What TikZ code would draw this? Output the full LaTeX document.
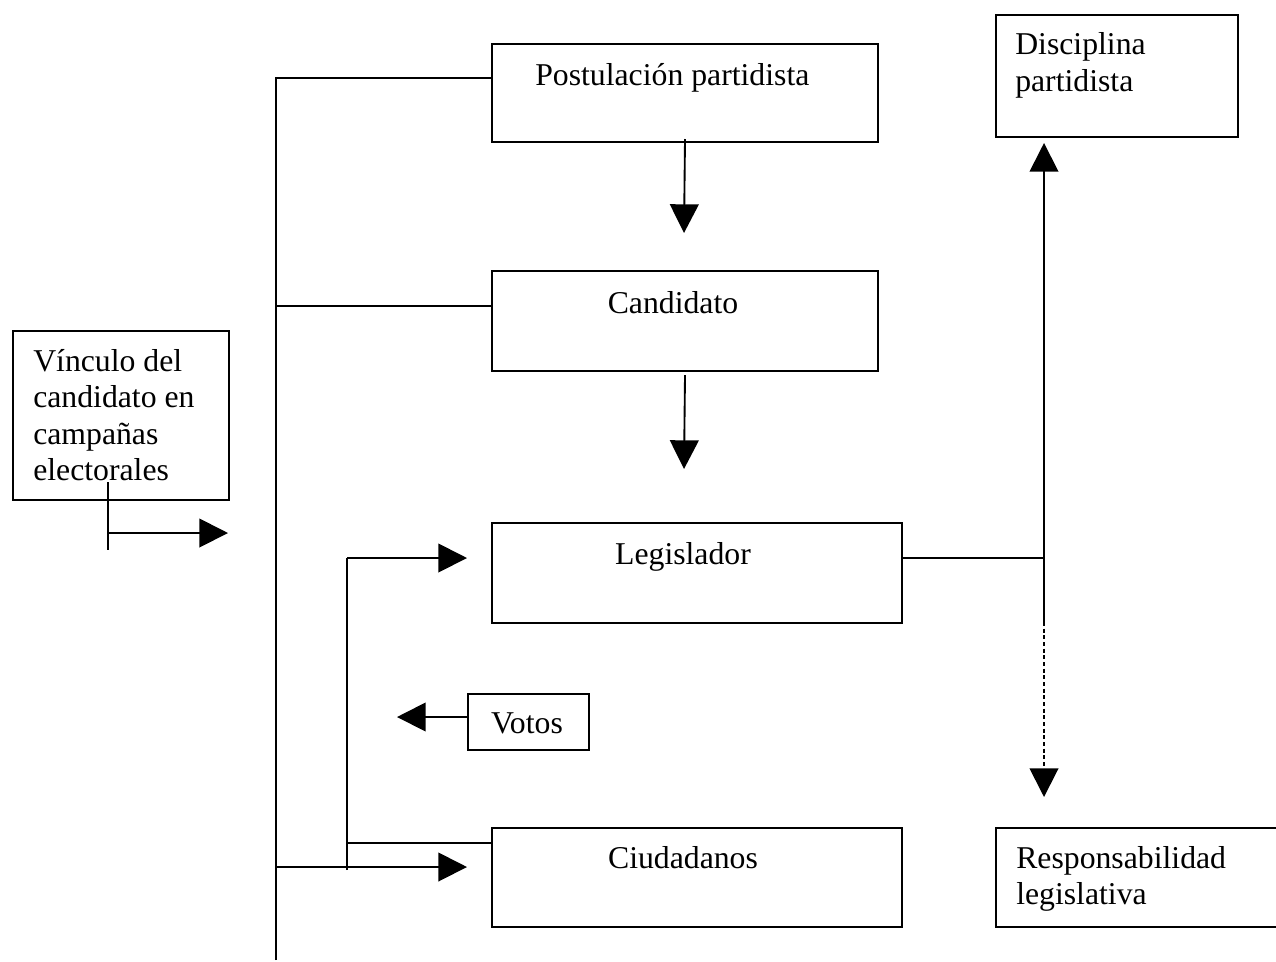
\documentclass[tikz,border=0pt]{standalone}
\usepackage{fontspec}
\setmainfont{Liberation Serif}
\usetikzlibrary{arrows.meta}
\begin{document}
\begin{tikzpicture}[x=0.75pt,y=-0.75pt,
  box/.style={draw,line width=1.5pt,anchor=north west,inner sep=0pt},
  txt/.style={inner sep=0pt,font=\fontsize{23.8}{27.4}\selectfont},
  conn/.style={line width=1.4pt},
  arr/.style={conn,-{Triangle[length=21.5pt,width=21.5pt]}},
  dotline/.style={dash pattern=on 3pt off 2pt}]
\useasboundingbox (0,0) rectangle (1276,961);
% boxes
\node[box,minimum width=289.5pt,minimum height=73.5pt] (post) at (491,43) {};
\node[box,minimum width=289.5pt,minimum height=75pt] (cand) at (491,270) {};
\node[box,minimum width=307.5pt,minimum height=75pt] (leg) at (491,522) {};
\node[box,minimum width=307.5pt,minimum height=74.25pt] (ciud) at (491,827) {};
\node[box,minimum width=181.5pt,minimum height=91.5pt] (disc) at (995,14) {};
\node[box,minimum width=215.25pt,minimum height=74.25pt] (resp) at (995,827) {};
\node[box,minimum width=162pt,minimum height=126.75pt] (vinc) at (12,330) {};
\node[box,minimum width=90.75pt,minimum height=42pt] (votos) at (467,693) {};
% texts
\node[txt,anchor=base west] (tpost) at (535,85) {Postulación partidista};
\node[txt,anchor=base] (tcand) at (673,313) {Candidato};
\node[txt,anchor=base] (tleg) at (683,564) {Legislador};
\node[txt,anchor=base] (tciud) at (683,868) {Ciudadanos};
\node[txt,anchor=base] (tvotos) at (527,733) {Votos};
\node[txt,anchor=base west] (tdisc1) at (1015,54) {Disciplina};
\node[txt,anchor=base west] (tdisc2) at (1015,91) {partidista};
\node[txt,anchor=base west] (tresp1) at (1016,868) {Responsabilidad};
\node[txt,anchor=base west] (tresp2) at (1016,904) {legislativa};
\node[txt,anchor=base west] (tvinc1) at (33,371) {Vínculo del};
\node[txt,anchor=base west] (tvinc2) at (33,407) {candidato en};
\node[txt,anchor=base west] (tvinc3) at (33,444) {campañas};
\node[txt,anchor=base west] (tvinc4) at (33,480) {electorales};
% main vertical line and branches
\coordinate (mtop) at (276,78);
\coordinate (mbot) at (276,960);
\coordinate (mcand) at (276,306);
\coordinate (mciud) at (276,867);
\coordinate (tipciud) at (467,867);
\draw[conn] (mbot) -- (mtop) -- (mtop -| post.west);
\draw[conn] (mcand) -- (mcand -| cand.west);
\draw[arr] (mciud) -- (tipciud);
% inner vertical line
\coordinate (vtop) at (347,558);
\coordinate (vbot) at (347,870);
\coordinate (vciud) at (347,843);
\coordinate (tipleg) at (467,558);
\draw[conn] (vbot) -- (vtop);
\draw[arr] (vtop) -- (tipleg);
\draw[conn] (vciud) -- (vciud -| ciud.west);
% votos arrow
\coordinate (tipvotos) at (397,717);
\draw[arr] (votos.west |- tipvotos) -- (tipvotos);
% vertical arrows
\coordinate (tippost) at (684,233);
\coordinate (tipcand) at (684,469);
\draw[arr] ([yshift=3pt]post.south) -- (tippost);
\draw[arr] ([yshift=-2.25pt]cand.south) -- (tipcand);
% legislador to disciplina / responsabilidad
\coordinate (lj) at (1044,558);
\coordinate (lb) at (1044,622);
\coordinate (tipdisc) at (1044,143);
\coordinate (tipresp) at (1044,797);
\draw[conn] (leg.east |- lj) -- (lj);
\draw[arr] (lb) -- (tipdisc);
\draw[arr,dotline] (lb) -- (tipresp);
% vinculo arrow
\coordinate (vk1) at (108,482);
\coordinate (vk2) at (108,550);
\coordinate (vkh) at (108,533);
\coordinate (tipvinc) at (228,533);
\draw[conn] (vk1) -- (vk2);
\draw[arr] (vkh) -- (tipvinc);
\end{tikzpicture}
\end{document}
